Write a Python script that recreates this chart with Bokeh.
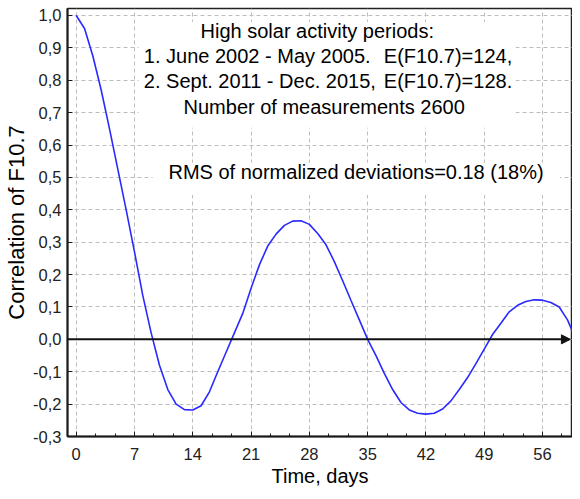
from bokeh.plotting import figure
from bokeh.models import (Range1d, FixedTicker, Label, BoxAnnotation,
                          Arrow, NormalHead, Title)
from bokeh.embed import file_html
from bokeh.resources import INLINE

# ---- data ----
days = list(range(0, 62))
corr = [1.000, 0.960, 0.875, 0.770, 0.650, 0.525, 0.400, 0.270, 0.135, 0.020,
        -0.080, -0.155, -0.200, -0.217, -0.218, -0.205, -0.162, -0.100, -0.040, 0.020,
        0.080, 0.158, 0.230, 0.288, 0.325, 0.352, 0.365, 0.366, 0.355, 0.327,
        0.292, 0.240, 0.181, 0.120, 0.060, 0.000, -0.050, -0.105, -0.155, -0.195,
        -0.218, -0.228, -0.231, -0.228, -0.215, -0.190, -0.155, -0.118, -0.075, -0.030,
        0.015, 0.050, 0.085, 0.105, 0.117, 0.122, 0.121, 0.114, 0.100, 0.060,
        0.000, -0.040]

x_ticks = [0, 7, 14, 21, 28, 35, 42, 49, 56]
x_minor = [2.33, 4.67, 9.33, 11.67, 16.33, 18.67, 23.33, 25.67, 30.33, 32.67,
           37.33, 39.67, 44.33, 46.67, 51.33, 53.67, 58.33]
y_ticks = [-0.3, -0.2, -0.1, 0.0, 0.1, 0.2, 0.3, 0.4, 0.5, 0.6, 0.7, 0.8, 0.9, 1.0]
y_tick_labels = ["-0,3", "-0,2", "-0,1", "0,0", "0,1", "0,2", "0,3", "0,4", "0,5",
                 "0,6", "0,7", "0,8", "0,9", "1,0"]

x_title = "Time, days"
y_title = "Correlation of F10.7"
info_lines = ["High solar activity periods:",
              "1. June 2002 - May 2005.",
              "2. Sept. 2011 - Dec. 2015,",
              "Number of measurements 2600"]
info_e = ["E(F10.7)=124,", "E(F10.7)=128."]
rms_text = "RMS of normalized deviations=0.18 (18%)"

FONT = "Liberation Sans"
X0, X1 = -1.045, 59.6
Y0, Y1 = -0.3, 1.0216

p = figure(width=572, height=491,
           x_range=Range1d(X0, X1), y_range=Range1d(Y0, Y1),
           output_backend="svg", toolbar_location=None,
           min_border_left=67, min_border_right=0, min_border_top=8,
           min_border_bottom=55)
p.outline_line_color = "#222222"
p.outline_line_width = 1.5
p.background_fill_color = "white"
p.border_fill_color = "white"

# axes
p.xaxis.ticker = FixedTicker(ticks=x_ticks, minor_ticks=x_minor)
p.yaxis.ticker = FixedTicker(ticks=y_ticks)
p.yaxis.major_label_overrides = dict(zip(y_ticks, y_tick_labels))
for ax in (p.xaxis[0], p.yaxis[0]):
    ax.axis_line_width = 2
    ax.axis_line_color = "#1a1a1a"
    ax.major_tick_in = 5
    ax.major_tick_out = 0
    ax.minor_tick_in = 3
    ax.minor_tick_out = 0
    ax.major_tick_line_color = "#1a1a1a"
    ax.minor_tick_line_color = "#1a1a1a"
    ax.major_label_text_font = FONT
    ax.major_label_text_font_size = "16.5px"
    ax.major_label_text_color = "#222222"
p.xaxis.major_label_standoff = 11
p.yaxis.major_label_standoff = 6
p.yaxis.minor_tick_line_color = None
p.yaxis.axis_label = y_title
p.yaxis.axis_label_text_font = FONT
p.yaxis.axis_label_text_font_size = "22px"
p.yaxis.axis_label_text_font_style = "normal"
p.yaxis.axis_label_text_color = "black"
p.yaxis.axis_label_standoff = 1

p.add_layout(Title(text=x_title, align="center", offset=-25, standoff=0,
                   text_font=FONT, text_font_size="20px", text_font_style="normal",
                   text_color="black"), "below")

# grid
for g in (p.xgrid[0], p.ygrid[0]):
    g.grid_line_color = "#bdbdbd"
    g.grid_line_dash = "4 3"
    g.grid_line_width = 1
p.xgrid.ticker = FixedTicker(ticks=x_ticks)
p.ygrid.ticker = FixedTicker(ticks=y_ticks)

# zero line with arrow
p.add_layout(Arrow(end=NormalHead(size=9, fill_color="#111111", line_color="#111111"),
                   x_start=X0, y_start=0, x_end=59.35, y_end=0,
                   line_width=2, line_color="#111111"))

# curve
p.line(days, corr, line_color="#2a2aff", line_width=1.6)

# white boxes behind text
p.add_layout(BoxAnnotation(left=7.49, right=52.76, top=0.98, bottom=0.653,
                           fill_color="white", fill_alpha=1, line_color=None))
p.add_layout(BoxAnnotation(left=9.17, right=58.1, top=0.545, bottom=0.446,
                           fill_color="white", fill_alpha=1, line_color=None))

def lab(x, y, t, size="20px"):
    p.add_layout(Label(x=x, y=y, text=t, text_font=FONT, text_font_size=size,
                       text_color="black"))

lab(14.93, 0.9197, info_lines[0])
lab(8.12, 0.8425, info_lines[1])
lab(36.94, 0.8425, info_e[0])
lab(8.12, 0.7634, info_lines[2])
lab(36.94, 0.7634, info_e[1])
lab(12.89, 0.685, info_lines[3])
lab(11.08, 0.4824, rms_text)

open("out.html", "w").write(file_html(p, INLINE))
